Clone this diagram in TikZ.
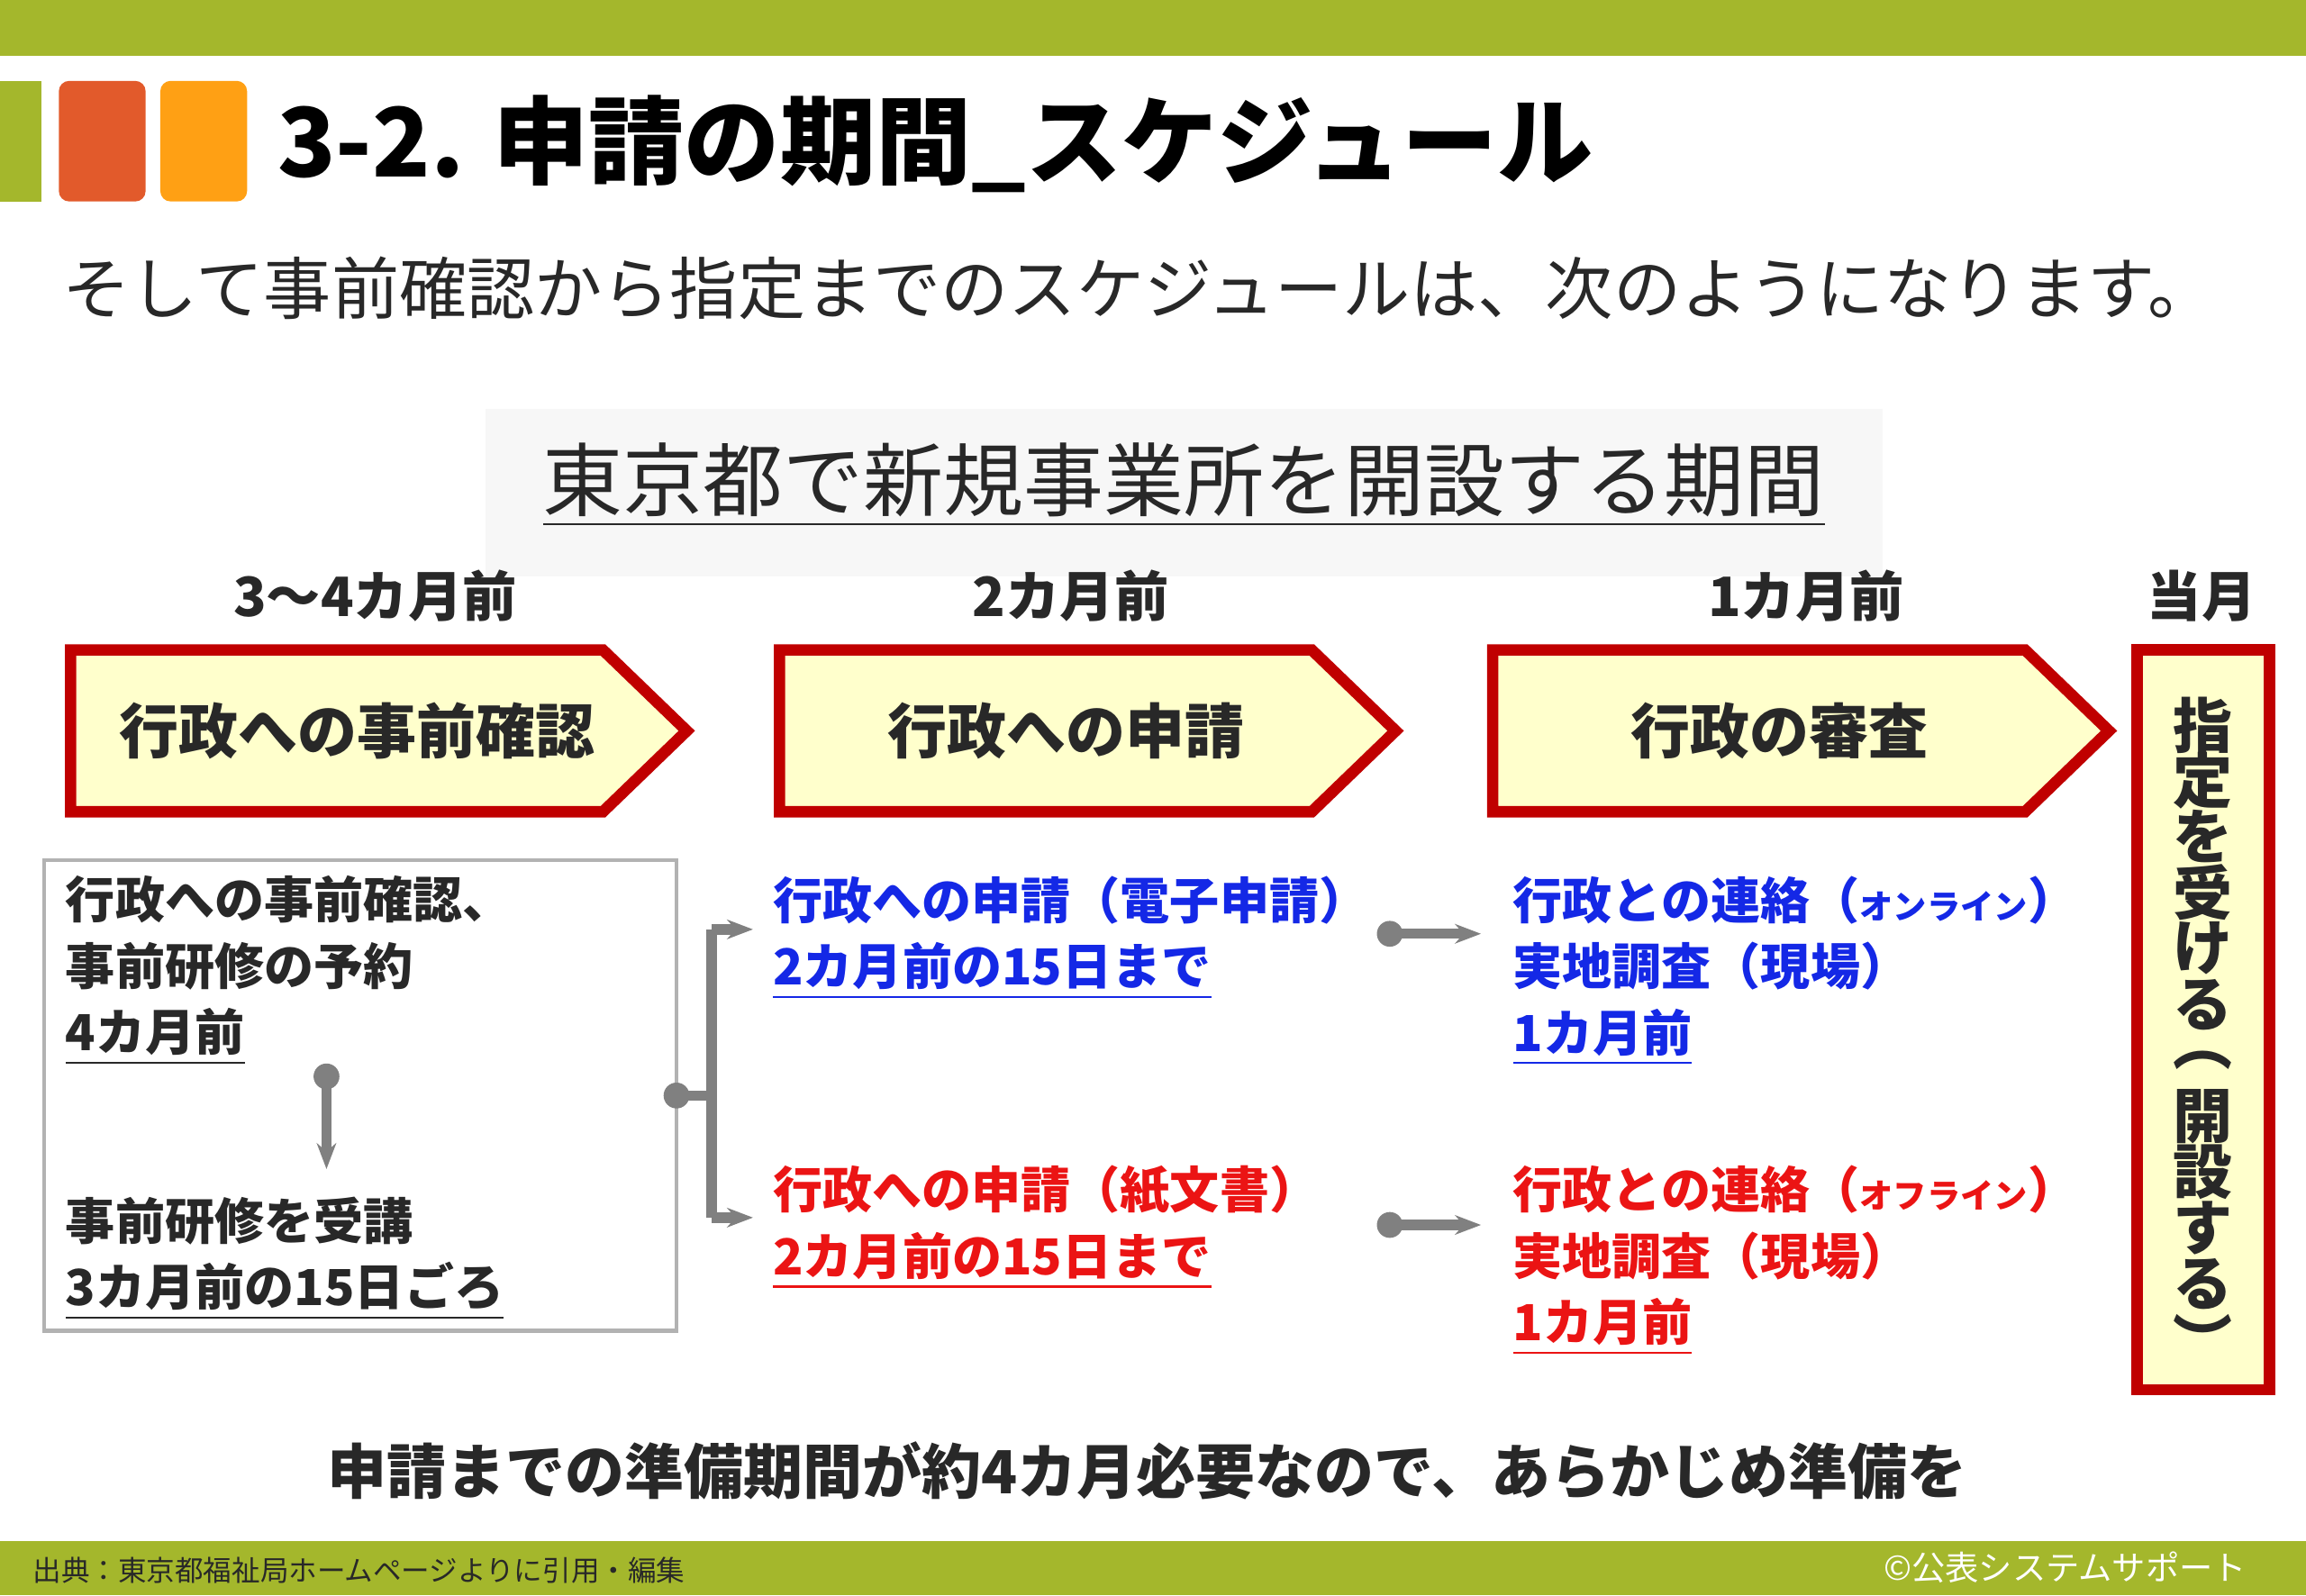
\documentclass[tikz,border=0pt]{standalone}
\usepackage{fontspec}
\setmainfont{Noto Sans CJK JP}
\usepackage{tikz}
\usetikzlibrary{arrows.meta}
\definecolor{barcolor}{RGB}{164, 183, 44}
\definecolor{sqred}{RGB}{226, 90, 43}
\definecolor{sqorange}{RGB}{255, 160, 20}
\definecolor{boxline}{RGB}{192, 0, 0}
\definecolor{boxfill}{RGB}{255, 255, 204}
\definecolor{linkblue}{RGB}{20, 40, 230}
\definecolor{linkred}{RGB}{235, 20, 20}
\definecolor{textgray}{RGB}{40, 40, 40}
\tikzset{
    bodytext/.style={anchor=north west, font=\fontsize{9.6}{12.8}\selectfont\bfseries, align=left, inner sep=0},
    steptext/.style={font=\fontsize{11.5}{14}\selectfont\bfseries, textgray},
    monthtext/.style={font=\fontsize{10.5}{12}\selectfont\bfseries, textgray},
    linkarrow/.style={gray, line width=2pt, ->},
}

\begin{document}
\begin{tikzpicture}[x=1cm, y=-1cm, >={Stealth[length=5pt]}]
        \useasboundingbox (0,0) rectangle (15.68,10.85);
        % Header and footer bars
        \fill[barcolor] (0,0) rectangle (15.68,0.38);
        \fill[barcolor] (0,10.48) rectangle (15.68,10.85);
        \fill[barcolor] (0,0.55) rectangle (0.28,1.37);
        \fill[sqred, rounded corners=2pt] (0.40,0.55) rectangle (0.99,1.37);
        \fill[sqorange, rounded corners=2pt] (1.09,0.55) rectangle (1.68,1.37);
        \node[anchor=west, font=\fontsize{18.5}{22}\selectfont\bfseries, inner sep=0] (TT) at (1.88,0.98) {3-2. 申請の期間\_スケジュール};
        \node[anchor=west, font=\fontsize{13.1}{16}\selectfont, textgray, inner sep=0] (ST) at (0.42,1.96) {そして事前確認から指定までのスケジュールは、次のようになります。};

        % Heading
        \fill[gray!6] (3.30,2.78) rectangle (12.80,3.92);
        \node[font=\fontsize{15.5}{18}\selectfont, textgray] (HD) at (8.05,3.30) {\underline{東京都で新規事業所を開設する期間}};

        % Column labels
        \node[monthtext] (M4) at (2.55,4.05) {3〜4カ月前};
        \node[monthtext] (M2) at (7.28,4.05) {2カ月前};
        \node[monthtext] (M1) at (12.28,4.05) {1カ月前};
        \node[monthtext] (M0) at (14.97,4.05) {当月};

        % Step boxes
        \foreach \x/\n/\t in {0.48/PA/行政への事前確認, 5.30/PB/行政への申請, 10.15/PC/行政の審査} {
            \draw[boxline, fill=boxfill, line width=2.2pt, line join=miter]
                (\x,4.42) -- ++(3.62,0) -- ++(0.57,0.55) -- ++(-0.57,0.55) -- ++(-3.62,0) -- cycle;
            \node[steptext] (\n) at (\x+1.95,4.97) {\t};
        }
        \draw[boxline, fill=boxfill, line width=2.2pt] (14.53,4.42) rectangle (15.43,9.45);
        \foreach \c [count=\i] in {指,定,を,受,け,る,︵,開,設,す,る,︶} {
            \node[steptext, inner sep=0] (PD\i) at (14.98,4.55+0.38*\i) {\c};
        }

        % Left box
        \draw[gray!60, thick] (0.30,5.85) rectangle (4.60,9.05);
        \node[bodytext, textgray] (LT) at (0.44,5.95)
            {行政への事前確認、\\事前研修の予約\\\underline{4カ月前}};
        \node[bodytext, textgray] (LB) at (0.44,8.13)
            {事前研修を受講\\\underline{3カ月前の15日ごろ}};
        \coordinate (D1) at (2.22,7.32);
        \coordinate (D2) at (2.22,7.95);
        \fill[gray] (D1) circle (2.5pt);
        \draw[linkarrow] (D1) -- (D2);

        % Branch
        \coordinate (BR) at (4.60,7.45);
        \coordinate (BJ) at (4.84,7.45);
        \coordinate (BU) at (4.84,6.32);
        \coordinate (BD) at (4.84,8.28);
        \coordinate (EU) at (5.12,6.32);
        \coordinate (ED) at (5.12,8.28);
        \fill[gray] (BR) circle (2.5pt);
        \draw[gray, line width=2pt] (BR) -- (BJ);
        \draw[gray, line width=2pt] (BU) -- (BD);
        \draw[linkarrow] (BU) -- (EU);
        \draw[linkarrow] (BD) -- (ED);

        % Application texts
        \node[bodytext, linkblue] (AE) at (5.25,5.95)
            {行政への申請（電子申請）\\\underline{2カ月前の15日まで}};
        \node[bodytext, linkred] (AP) at (5.25,7.92)
            {行政への申請（紙文書）\\\underline{2カ月前の15日まで}};

        % Arrows to review
        \coordinate (C1) at (9.45,6.35);
        \coordinate (C2) at (10.07,6.35);
        \coordinate (C3) at (9.45,8.33);
        \coordinate (C4) at (10.07,8.33);
        \fill[gray] (C1) circle (2.5pt);
        \fill[gray] (C3) circle (2.5pt);
        \draw[linkarrow] (C1) -- (C2);
        \draw[linkarrow] (C3) -- (C4);

        % Review texts
        \node[bodytext, linkblue] (RO) at (10.28,5.95)
            {行政との連絡（{\fontsize{6.5}{8}\selectfont オンライン}）\\実地調査（現場）\\\underline{1カ月前}};
        \node[bodytext, linkred] (RF) at (10.28,7.92)
            {行政との連絡（{\fontsize{6.5}{8}\selectfont オフライン}）\\実地調査（現場）\\\underline{1カ月前}};

        % Bottom note and footer
        \node[font=\fontsize{11.5}{14}\selectfont\bfseries, textgray] (NT) at (7.80,10.00) {申請までの準備期間が約4カ月必要なので、あらかじめ準備を};
        \node[anchor=west, font=\fontsize{5.5}{7}\selectfont, textgray] (SRC) at (0.10,10.68) {出典：東京都福祉局ホームページよりに引用・編集};
        \node[anchor=east, font=\fontsize{6.5}{8}\selectfont, white] (CP) at (15.40,10.66) {©公表システムサポート};
\end{tikzpicture}
\end{document}
